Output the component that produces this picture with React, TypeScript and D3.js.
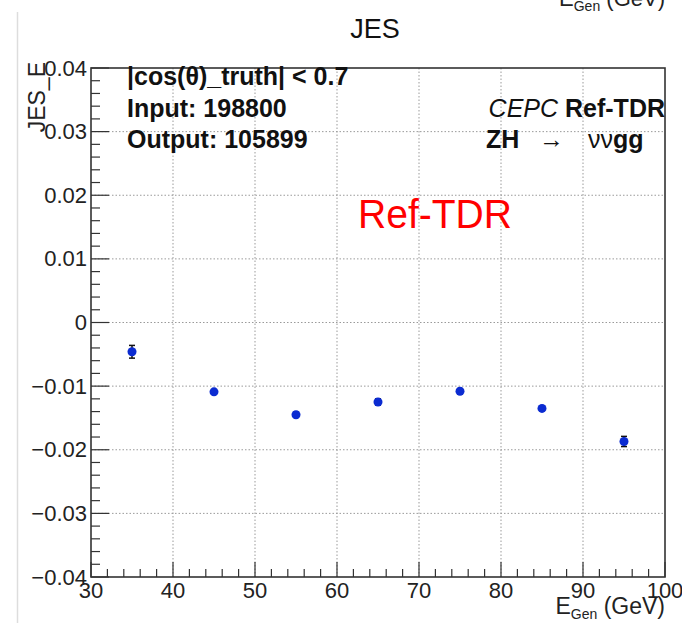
import React from "react";
import * as d3 from "d3";

const energies = [35, 45, 55, 65, 75, 85, 95];
const jesValues = [-0.0046, -0.0109, -0.0145, -0.0125, -0.0108, -0.0135, -0.0187];
const jesErrors = [0.001, 0.0003, 0.0004, 0.0005, 0.0004, 0.0003, 0.0008];
const xTicks = [30, 40, 50, 60, 70, 80, 90, 100];
const yTicks = [0.04, 0.03, 0.02, 0.01, 0, -0.01, -0.02, -0.03, -0.04];
const infoLines = ["|cos(\u03b8)_truth| < 0.7", "Input: 198800", "Output: 105899"];

const W = 682;
const H = 623;
const left = 91;
const right = 665;
const top = 68;
const bottom = 577;
const FONT = "'Liberation Sans', Arial, Helvetica, sans-serif";

export default function App() {
  const x = d3.scaleLinear().domain([30, 100]).range([left, right]);
  const y = d3.scaleLinear().domain([-0.04, 0.04]).range([bottom, top]);

  const xMinor = d3.range(30, 100.001, 2);
  const yMinor = d3.range(-0.04, 0.04001, 0.002);

  const fmtY = (v: number) => {
    if (Math.abs(v) < 1e-9) return "0";
    const s = d3.format(".2f")(Math.abs(v));
    return (v < 0 ? "\u22120" : "0") + s.slice(1);
  };

  return (
    <svg
      width={W}
      height={H}
      style={{ position: "absolute", left: 0, top: 0, background: "#fff" }}
      fontFamily={FONT}
    >
      <rect x={0} y={0} width={W} height={H} fill="#fff" />
      {/* artifacts of cropped screenshot */}
      <line x1={17.5} y1={12} x2={17.5} y2={H} stroke="#ddd" strokeWidth={1.5} />
      <text x={665} y={6} textAnchor="end" fontSize={22} fill="#222">
        E<tspan fontSize={14} dy={5}>Gen</tspan>
        <tspan dy={-5}> (GeV)</tspan>
      </text>

      {/* grid */}
      {xTicks.slice(1, -1).map((t) => (
        <line key={"gx" + t} x1={x(t)} x2={x(t)} y1={top} y2={bottom}
          stroke="#9a9a9a" strokeWidth={1} strokeDasharray="1.5,2" />
      ))}
      {yTicks.slice(1, -1).map((t) => (
        <line key={"gy" + t} x1={left} x2={right} y1={y(t)} y2={y(t)}
          stroke="#9a9a9a" strokeWidth={1} strokeDasharray="1.5,2" />
      ))}

      {/* ticks */}
      {xMinor.map((t, i) => {
        const major = i % 5 === 0;
        return (
          <line key={"xt" + i} x1={x(t)} x2={x(t)} y1={bottom} y2={bottom - (major ? 15 : 8)}
            stroke="#333" strokeWidth={1.2} />
        );
      })}
      {yMinor.map((t, i) => {
        const major = i % 5 === 0;
        return (
          <line key={"yt" + i} x1={left} x2={left + (major ? 18 : 9)} y1={y(t)} y2={y(t)}
            stroke="#333" strokeWidth={1.2} />
        );
      })}

      {/* frame */}
      <rect x={left} y={top} width={right - left} height={bottom - top}
        fill="none" stroke="#333" strokeWidth={1.6} />

      {/* tick labels */}
      {xTicks.map((t) => (
        <text key={"xl" + t} x={x(t)} y={598} textAnchor="middle" fontSize={22} fill="#222">
          {t}
        </text>
      ))}
      {yTicks.map((t) => (
        <text key={"yl" + t} x={87} y={y(t) + 7.5} textAnchor="end" fontSize={22} fill="#222">
          {fmtY(t)}
        </text>
      ))}

      {/* axis titles */}
      <text x={665} y={614} textAnchor="end" fontSize={23} fill="#222">
        E<tspan fontSize={14} dy={5}>Gen</tspan>
        <tspan dy={-5}> (GeV)</tspan>
      </text>
      <text transform={`translate(45,62) rotate(-90)`} textAnchor="end" fontSize={23} fill="#222">
        JES_E
      </text>

      {/* title */}
      <text x={375} y={38} textAnchor="middle" fontSize={27} fill="#111">JES</text>

      {/* info text */}
      {infoLines.map((s, i) => (
        <text key={"info" + i} x={127} y={85 + i * 31.5} fontSize={25} fontWeight="bold" fill="#111">
          {s}
        </text>
      ))}
      <text x={665} y={117} textAnchor="end" fontSize={25} fill="#111">
        <tspan fontStyle="italic">CEPC</tspan>
        <tspan fontWeight="bold"> Ref-TDR</tspan>
      </text>
      <text x={486} y={148} fontSize={25} fontWeight="bold" fill="#111">ZH</text>
      <text x={539} y={148} fontSize={25} fill="#111">{"\u2192"}</text>
      <text x={588} y={148} fontSize={25} fill="#111">
        {"\u03bd\u03bd"}<tspan fontWeight="bold">gg</tspan>
      </text>

      {/* watermark */}
      <text x={358} y={228} fontSize={40} fill="#ff0000" textLength={154} lengthAdjust="spacingAndGlyphs">
        Ref-TDR
      </text>

      {/* data points */}
      {energies.map((e, i) => {
        const cx = x(e);
        const cy = y(jesValues[i]);
        const y1 = y(jesValues[i] + jesErrors[i]);
        const y2 = y(jesValues[i] - jesErrors[i]);
        return (
          <g key={"pt" + e}>
            <line x1={cx} x2={cx} y1={y1} y2={y2} stroke="#111" strokeWidth={1.5} />
            <line x1={cx - 3} x2={cx + 3} y1={y1} y2={y1} stroke="#111" strokeWidth={1.5} />
            <line x1={cx - 3} x2={cx + 3} y1={y2} y2={y2} stroke="#111" strokeWidth={1.5} />
            <circle cx={cx} cy={cy} r={4.5} fill="#0b2bd1" />
          </g>
        );
      })}
    </svg>
  );
}
